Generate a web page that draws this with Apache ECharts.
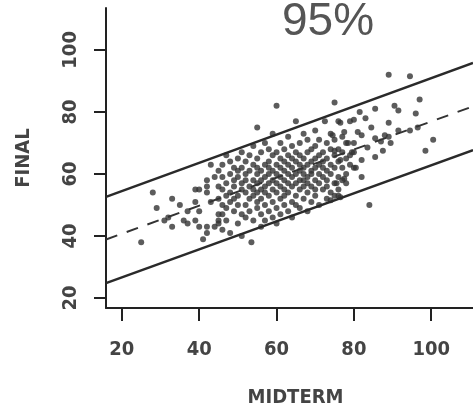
<!DOCTYPE html>
<html>
<head>
<meta charset="utf-8">
<title>95%</title>
<script src="https://cdn.jsdelivr.net/npm/echarts@6/dist/echarts.min.js"></script>
<style>
  html, body { margin: 0; padding: 0; background: #fff; }
  #chart { width: 473px; height: 415px; }
</style>
</head>
<body>
<div id="chart"></div>
<script>
// tick labels
var xTicks = [20, 40, 60, 80, 100]
var yTicks = [20, 40, 60, 80, 100]

// [midterm, final]
var scores = [
  [25, 38], [28, 54], [29, 49], [31, 45], [32, 46], [33, 43], [33, 52], [35, 50], [36, 45], [37, 48],
  [37, 44], [39, 55], [40, 55], [39, 51], [40, 48], [39, 45], [40, 43], [42, 43], [44, 43], [42, 41],
  [41, 39], [42, 58], [42, 56], [44, 59], [42, 54], [45, 52], [43, 51], [46, 47], [45, 45], [43, 63],
  [45, 47], [45, 56], [45, 61], [45, 44], [46, 50], [46, 55], [46, 59], [46, 63], [46, 42],
  [47, 45], [47, 53], [47, 57], [47, 66], [47, 49], [48, 51], [48, 60], [48, 54], [48, 41], [48, 64],
  [49, 48], [49, 56], [49, 62], [49, 52], [49, 58], [50, 44], [50, 53], [50, 59], [50, 65], [50, 50], [50, 61],
  [51, 47], [51, 55], [51, 57], [51, 62], [51, 67], [51, 40], [52, 50], [52, 54], [52, 60], [52, 64], [52, 46], [52, 58],
  [53, 52], [53, 56], [53, 61], [53, 48], [53, 66], [53.5, 38], [54, 45], [54, 53], [54, 58], [54, 63], [54, 69], [54, 55],
  [55, 49], [55, 57], [55, 60], [55, 65], [55, 51], [55, 54], [55, 62],
  [56, 47], [56, 52], [56, 58], [56, 61], [56, 67], [56, 55], [56, 43],
  [57, 50], [57, 56], [57, 59], [57, 63], [57, 70], [57, 54], [57, 45],
  [58, 48], [58, 53], [58, 57], [58, 60], [58, 64], [58, 68], [58, 62],
  [59, 46], [59, 55], [59, 58], [59, 61], [59, 66], [59, 51], [59, 73],
  [60, 49], [60, 54], [60, 57], [60, 60], [60, 63], [60, 67], [60, 44],
  [61, 52], [61, 56], [61, 59], [61, 62], [61, 65], [61, 70], [61, 47],
  [62, 50], [62, 55], [62, 58], [62, 61], [62, 64], [62, 68], [62, 53],
  [63, 48], [63, 57], [63, 60], [63, 63], [63, 66], [63, 72], [63, 54],
  [64, 51], [64, 56], [64, 59], [64, 62], [64, 65], [64, 69], [64, 46],
  [65, 53], [65, 57], [65, 60], [65, 64], [65, 67], [65, 50],
  [66, 49], [66, 55], [66, 58], [66, 61], [66, 63], [66, 70], [66, 66],
  [67, 52], [67, 56], [67, 60], [67, 62], [67, 65], [67, 73], [67, 58],
  [68, 54], [68, 57], [68, 59], [68, 63], [68, 67], [68, 71], [68, 48],
  [69, 51], [69, 56], [69, 61], [69, 64], [69, 68], [69, 60],
  [70, 53], [70, 58], [70, 62], [70, 65], [70, 69], [70, 74], [70, 55],
  [71, 50], [71, 57], [71, 60], [71, 63], [71, 66], [71, 71],
  [72, 55], [72, 59], [72, 62], [72, 67], [72, 64],
  [73, 52], [73, 58], [73, 61], [73, 65], [73, 70], [73, 56],
  [74, 54], [74, 60], [74, 63], [74, 68], [74, 73], [74, 51.5],
  [75, 57], [75, 62], [75, 66], [75, 71], [75, 53],
  [76, 59], [76, 64], [76, 68], [76, 77], [76, 55], [76.5, 52.5],
  [77, 58], [77, 62], [77, 67], [77, 72], [78, 60], [78, 65], [78, 70], [78, 57],
  [79, 63], [79, 66], [79, 77], [80, 62], [80, 67], [80, 70],
  [89, 92], [94.5, 91.5], [97, 84], [75, 83], [81.5, 80], [85.5, 81], [90.5, 82], [91.5, 80.5], [96, 79.5], [89, 76.5],
  [84.5, 75], [81, 73.5], [91.5, 74], [94.5, 74], [96.5, 75], [89, 72], [89.5, 70], [87, 70.5], [85.5, 71.5], [83.5, 68.5],
  [85.5, 65.5], [87.5, 67.5], [100.5, 71], [98.5, 67.5], [82, 72.5], [78.5, 70], [79.5, 67], [82, 64.5], [82, 59], [77.5, 58.5],
  [75.5, 57], [76, 53], [84, 50], [80.5, 62], [76.5, 64.5], [75, 67.5], [74.5, 72.5], [77.5, 73.5], [76.5, 76.5], [80, 77.5],
  [83, 78], [88, 72.5], [60, 82], [55, 75], [65, 77], [72.5, 77]
]

// 95% prediction band and fitted line, end points
var upperBand = [[15.9, 52.6], [110.8, 95.8]]
var lowerBand = [[15.9, 24.8], [110.8, 67.7]]
var fitLine = [[15.9, 38.9], [110.8, 81.8]]

var chart = echarts.init(document.getElementById('chart'))

var labelFont = {
  color: '#444',
  fontSize: 20,
  fontWeight: 'bold',
  fontFamily: '"Liberation Sans Narrow", "DejaVu Sans Condensed", sans-serif'
}

chart.setOption({
  animation: false,
  title: {
    text: '95%',
    left: 323,
    top: -6,
    textAlign: 'center',
    textStyle: { fontSize: 46, fontWeight: 'normal', color: '#555', fontFamily: '"Liberation Sans", Arial, sans-serif' }
  },
  grid: { left: 106, right: 0, top: 8, bottom: 107 },
  xAxis: {
    type: 'value',
    min: 15.9,
    max: 110.8,
    name: 'MIDTERM',
    nameLocation: 'middle',
    nameGap: 80,
    nameTextStyle: Object.assign({ padding: [0, 0, 0, 12] }, labelFont),
    splitLine: { show: false },
    axisLine: { lineStyle: { color: '#222', width: 2 } },
    axisTick: { customValues: xTicks, length: 13, lineStyle: { color: '#222', width: 2 } },
    axisLabel: Object.assign({ customValues: xTicks, margin: 32 }, labelFont)
  },
  yAxis: {
    type: 'value',
    min: 16.8,
    max: 113.5,
    name: 'FINAL',
    nameLocation: 'middle',
    nameGap: 72,
    nameRotate: 90,
    nameTextStyle: labelFont,
    splitLine: { show: false },
    axisLine: { onZero: false, lineStyle: { color: '#222', width: 2 } },
    axisTick: { customValues: yTicks, length: 12, lineStyle: { color: '#222', width: 2 } },
    axisLabel: Object.assign({ customValues: yTicks, margin: 25, rotate: 90 }, labelFont)
  },
  series: [
    {
      type: 'line',
      data: upperBand,
      symbol: 'none',
      lineStyle: { color: '#2a2a2a', width: 2.5 }
    },
    {
      type: 'line',
      data: lowerBand,
      symbol: 'none',
      lineStyle: { color: '#2a2a2a', width: 2.5 }
    },
    {
      type: 'line',
      data: fitLine,
      symbol: 'none',
      lineStyle: { color: '#333', width: 2, type: [12, 10] }
    },
    {
      type: 'scatter',
      data: scores,
      symbol: 'circle',
      symbolSize: 6,
      itemStyle: { color: '#333' }
    }
  ]
})

window.addEventListener('resize', function () {
  chart.resize()
})
</script>
</body>
</html>
